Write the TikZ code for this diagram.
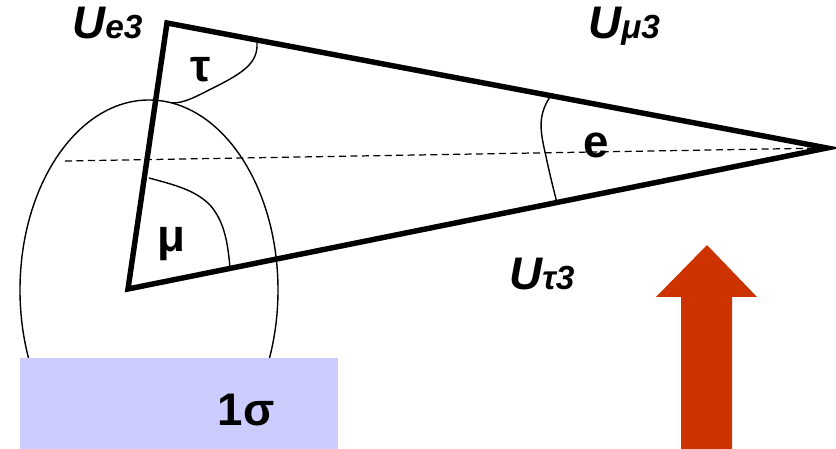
\documentclass[tikz,border=0pt]{standalone}
\usepackage{fontspec}
\setmainfont{Liberation Sans}
\definecolor{sigmablue}{HTML}{CCCCFF}
\definecolor{arrowred}{HTML}{CC3300}

\begin{document}
\begin{tikzpicture}[x=0.02cm, y=-0.02cm, side/.style={line width=3.1pt, line join=miter}, arcline/.style={line width=0.8pt}, lbl/.style={font=\bfseries\fontsize{26}{30}\selectfont, inner sep=0pt}, ulbl/.style={font=\bfseries\itshape\fontsize{26}{30}\selectfont, inner sep=0pt, anchor=base west}]
			\useasboundingbox (0,0) rectangle (836,449);
			\clip (0,0) rectangle (836,449);
			\coordinate (top) at (167,23);
			\coordinate (low) at (128,289);
			\coordinate (tip) at (827,148);
			\coordinate (axis) at (65,161);
			\draw[arcline] (149,290) ellipse [x radius=129, y radius=190];
			\fill[sigmablue] (20,358) rectangle (338,449);
			\node[lbl] (sig) at (246,410) {1σ};
			\draw[dashed, dash pattern=on 4pt off 2.5pt, line width=0.7pt] (axis) -- (tip);
			\draw[arcline] (257,43) .. controls (258,62) and (245,72) .. (215,87) .. controls (195,97) and (185,103) .. (172,103);
			\draw[arcline] (149,178) .. controls (175,185) and (195,190) .. (210,205) .. controls (225,222) and (228,245) .. (230,268);
			\draw[arcline] (550,97) .. controls (538,115) and (540,130) .. (545,152) .. controls (550,175) .. (557,203);
			\draw[side] (top) -- (tip) -- (low) -- cycle;
			\node[lbl] (tau) at (201,70) {τ};
			\node[lbl] (mu) at (171,244) {μ};
			\node[lbl] (e) at (596,145) {e};
			\node[ulbl] (ue) at (72,39) {U{\fontsize{19}{22}\selectfont e3}};
			\node[ulbl] (umu) at (588,39) {U{\fontsize{19}{22}\selectfont μ3}};
			\node[ulbl] (utau) at (509,290) {U{\fontsize{19}{22}\selectfont τ3}};
			\fill[arrowred] (707,245) -- (757,297) -- (732,297) -- (732,449) -- (681,449) -- (681,297) -- (656,297) -- cycle;
			\end{tikzpicture}
\end{document}
